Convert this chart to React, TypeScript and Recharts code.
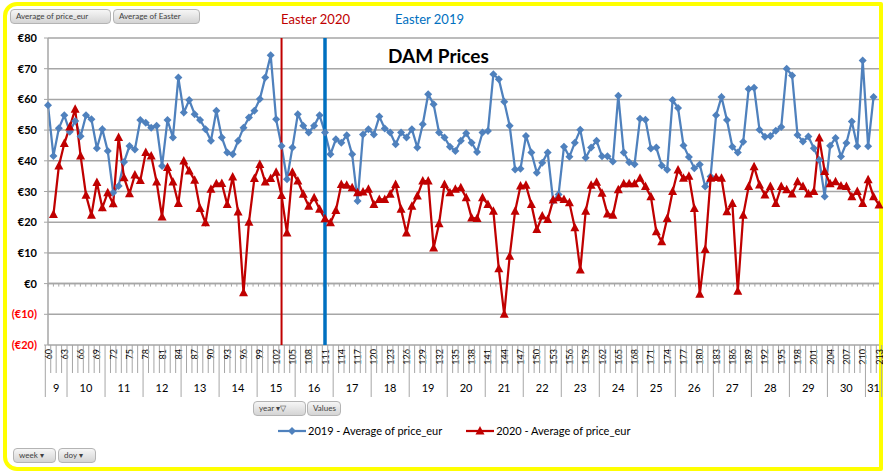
import React from 'react';
import { LineChart, Line, XAxis, YAxis, CartesianGrid, ReferenceLine } from 'recharts';

// day of year, 1 Mar .. 31 Jul (2020 is a leap year, so its days sit one doy later)
const doys: number[] = [];
for (let d = 60; d <= 213; d++) doys.push(d);

// 2019 - Average of price_eur, doy 60..212
const price2019 = [
  58.1, 41.6, 50.6, 54.8, 49.5, 53, 48, 54.8, 53.5, 44.1,
  50.3, 43.2, 29.6, 31.8, 39.6, 44.8, 43.7, 53.3, 52.4, 50.8,
  51.4, 38.3, 53.3, 47.6, 67.1, 55.7, 59.8, 55.2, 53.3, 50.3,
  46.5, 56.3, 47.6, 42.7, 42.1, 46.5, 50.8, 54.1, 56.3, 60.1,
  67.1, 74.4, 53.5, 44.8, 34, 44.3, 55.2, 51.4, 49.2, 51.4,
  54.8, 49.2, 42.1, 47, 45.9, 48.3, 42.1, 26.9, 48.6, 50.3,
  48.6, 54.4, 50.5, 49.2, 45.4, 49.2, 47.6, 50.3, 44.3, 51.9,
  61.7, 58.4, 49.2, 47.6, 44.6, 43.2, 46.5, 49, 45.9, 42.9,
  49.2, 49.7, 68.2, 66.6, 59.2, 51.4, 37.2, 37.4, 48.1, 42.7,
  36.1, 39.4, 42.7, 27, 29, 44.6, 41.3, 45.9, 50.1, 41,
  44.3, 46.5, 41.5, 41.5, 39.8, 61.2, 42.7, 39.5, 38.9, 53.7,
  53.4, 44, 44.3, 38.5, 37.1, 59.8, 57.2, 45, 41.2, 37.6,
  38.8, 31.6, 34.9, 54.8, 60.8, 53.3, 44.6, 42.7, 46.2, 63.4,
  63.8, 50.1, 47.8, 48.1, 49.8, 51, 70, 67.8, 48.4, 46.3,
  47.9, 44.1, 40.3, 28.4, 44.9, 47.4, 41.4, 45.8, 52.8, 44.7,
  72.7, 44.7, 60.8,
];

// 2020 - Average of price_eur, doy 61..213
const price2020 = [
  22.5, 38.3, 45.6, 51, 56.8, 41.6, 28.8, 22.3, 32.9, 24.7,
  29.6, 26, 47.6, 34.5, 29.3, 35.4, 33.6, 42.7, 41.6, 33.1,
  21.7, 37.8, 33.1, 26.1, 39.9, 36.7, 33.7, 24.5, 19.8, 30.7,
  32.5, 32.6, 25.8, 34.7, 23.3, -3, 20, 34.2, 38.8, 33.1,
  34.2, 36.3, 28.7, 16.5, 36.3, 33.4, 29.1, 25.2, 28, 24.2,
  21.1, 19.8, 23.8, 32.3, 32, 31.2, 29.6, 29.8, 30.7, 25.8,
  27.4, 27.4, 29.1, 32.3, 24.2, 16.5, 25.2, 28.5, 33.4, 33.4,
  11.6, 19.5, 32.3, 29.6, 30.7, 31.2, 28, 21.4, 21.2, 28,
  25.8, 23.6, 4.8, -10, 8.9, 23.6, 31.8, 32, 25.8, 17.6,
  22, 20.9, 27.2, 28, 27.4, 26.3, 18.2, 4.4, 23.6, 32,
  33, 29.4, 22.7, 22.3, 30.6, 32.5, 32.5, 32.5, 34.3, 31.6,
  28.3, 16.9, 13.6, 21.2, 30, 37, 34.3, 35, 24.5, -3.5,
  11.1, 34.3, 34.6, 34.3, 23.4, 26.1, -2.5, 22.3, 31.6, 38.1,
  32.1, 28.9, 31.6, 26.1, 31.6, 30.6, 29.2, 33.2, 31.6, 29.2,
  30, 47.4, 36.5, 32.5, 33.2, 31.8, 31.6, 28.3, 30, 26.1,
  33.8, 28.3, 25.6,
];

const yTicks = [-20, -10, 0, 10, 20, 30, 40, 50, 60, 70, 80];
const easter2020 = 103;
const easter2019 = 111;

const BLUE = '#4F81BD';
const RED = '#C00000';
const GRID = '#A6A6A6';
const FONT = "Lato, 'Open Sans', sans-serif";

const CHART_W = 883;
const CHART_H = 472;
const Y_W = 48;
const RIGHT = 4;
const BAND = (CHART_W - Y_W - RIGHT) / doys.length;

const data = doys.map((doy, i) => ({
  doy,
  y2019: i < price2019.length ? price2019[i] : null,
  y2020: i >= 1 ? price2020[i - 1] : null,
}));

const firstDoy = doys[0];
const lastDoy = doys[doys.length - 1];
const weekOf = (d: number) => Math.floor((d + 6) / 7);

function DoyTick(props: any) {
  const { x, y, payload } = props;
  const doy = Number(payload.value);
  const half = payload.offset || BAND / 2;
  const left = x - half;
  const weekStart = doy === firstDoy || weekOf(doy - 1) !== weekOf(doy);
  const els: React.ReactNode[] = [];
  els.push(<line key="t" x1={left} x2={left} y1={y} y2={y + (weekStart ? 52 : 28)} stroke={GRID} />);
  if (doy === lastDoy) {
    els.push(<line key="e" x1={x + half} x2={x + half} y1={y} y2={y + 52} stroke={GRID} />);
  }
  if (doy % 3 === 0) {
    els.push(
      <text key="l" x={x} y={y + 4} transform={`rotate(-90, ${x}, ${y + 4})`} textAnchor="end"
        dominantBaseline="central" fontSize={9} fill="#000">{doy}</text>
    );
  }
  if (weekStart) {
    let n = 0;
    for (let d = doy; d <= lastDoy && weekOf(d) === weekOf(doy); d++) n++;
    els.push(
      <text key="w" x={left + n * half} y={y + 47} textAnchor="middle" fontSize={11} fill="#000">{weekOf(doy)}</text>
    );
  }
  return <g>{els}</g>;
}

function PriceTick({ x, y, payload }: any) {
  const v = Number(payload.value);
  const label = v < 0 ? `(€${-v})` : `€${v}`;
  return (
    <text x={x} y={y} dy={4} textAnchor="end" fontSize={11} fontWeight="bold" fill={v < 0 ? '#FF0000' : '#000'}>
      {label}
    </text>
  );
}

const Diamond = (p: any) => {
  const { cx, cy } = p;
  if (cx == null || cy == null) return <g key={p.key} />;
  const r = 4;
  return <path key={p.key} d={`M${cx},${cy - r}L${cx + r},${cy}L${cx},${cy + r}L${cx - r},${cy}Z`} fill={BLUE} />;
};

const Triangle = (p: any) => {
  const { cx, cy } = p;
  if (cx == null || cy == null) return <g key={p.key} />;
  return <path key={p.key} d={`M${cx},${cy - 5}L${cx + 4.5},${cy + 3.5}L${cx - 4.5},${cy + 3.5}Z`} fill={RED} />;
};

// zero line with a small tick for every category, like the excel axis crossing
const ZeroLine = (p: any) => {
  const { x1, x2, y1 } = p;
  const step = (x2 - x1) / doys.length;
  return (
    <g>
      <line x1={x1} x2={x2} y1={y1} y2={y1} stroke={GRID} strokeWidth={1.5} />
      {doys.map((d, i) => (
        <line key={d} x1={x1 + i * step} x2={x1 + i * step} y1={y1} y2={y1 + 3} stroke={GRID} />
      ))}
    </g>
  );
};

const pill: React.CSSProperties = {
  position: 'absolute',
  height: 15,
  boxSizing: 'border-box',
  border: '1px solid #B4B4B4',
  borderRadius: 4,
  background: 'linear-gradient(#F6F6F6, #D4D4D4)',
  fontSize: 8,
  lineHeight: '13px',
  color: '#404040',
  paddingLeft: 5,
  whiteSpace: 'nowrap',
};

export default function App() {
  return (
    <div style={{ position: 'relative', width: CHART_W, height: CHART_H, background: '#fff', fontFamily: FONT, overflow: 'hidden' }}>
      <style>{'body{margin:0}'}</style>
      <div style={{ position: 'absolute', left: 3, top: 2, width: 880, height: 469, boxSizing: 'border-box', border: '4px solid #FFFF00', borderRadius: '14px 2px 2px 14px' }} />

      <LineChart width={CHART_W} height={CHART_H} data={data} margin={{ top: 38, right: RIGHT, left: 0, bottom: 0 }}>
        <CartesianGrid vertical={false} stroke={GRID} strokeWidth={1.5} />
        <XAxis dataKey="doy" type="category" interval={0} height={127} tickSize={0} tickMargin={0}
          axisLine={false} tickLine={false} tick={<DoyTick />} />
        <YAxis domain={[-20, 80]} ticks={yTicks} interval={0} width={Y_W} tickSize={4} tickMargin={7}
          axisLine={{ stroke: GRID, strokeWidth: 1.5 }} tickLine={{ stroke: GRID }} tick={<PriceTick />} />
        <ReferenceLine y={0} shape={<ZeroLine />} />
        <Line dataKey="y2019" stroke={BLUE} strokeWidth={2.25} dot={Diamond} activeDot={false} isAnimationActive={false} />
        <Line dataKey="y2020" stroke={RED} strokeWidth={2.25} dot={Triangle} activeDot={false} isAnimationActive={false} />
        <ReferenceLine x={easter2020} stroke={RED} strokeWidth={2} />
        <ReferenceLine x={easter2019} stroke="#0070C0" strokeWidth={3.5} />
      </LineChart>

      <div style={{ position: 'absolute', left: 281, top: 11, fontSize: 13, color: RED }}>Easter 2020</div>
      <div style={{ position: 'absolute', left: 395, top: 11, fontSize: 13, color: '#0070C0' }}>Easter 2019</div>
      <div style={{ position: 'absolute', left: 388, top: 44, fontSize: 19, fontWeight: 'bold', color: '#000' }}>DAM Prices</div>

      <div style={{ ...pill, left: 10, top: 9, width: 101 }}>Average of price_eur</div>
      <div style={{ ...pill, left: 113, top: 9, width: 87 }}>Average of Easter</div>
      <div style={{ ...pill, left: 253, top: 401, width: 53 }}>year ▾▽</div>
      <div style={{ ...pill, left: 307, top: 401, width: 34 }}>Values</div>
      <div style={{ ...pill, left: 13, top: 448, width: 43 }}>week ▾</div>
      <div style={{ ...pill, left: 58, top: 448, width: 38 }}>doy ▾</div>

      <div style={{ position: 'absolute', left: 278, top: 424, display: 'flex', alignItems: 'center', fontSize: 11, color: '#000' }}>
        <svg width={28} height={12}>
          <line x1={0} x2={28} y1={6} y2={6} stroke={BLUE} strokeWidth={2.25} />
          <path d="M14,2L18,6L14,10L10,6Z" fill={BLUE} />
        </svg>
        <span style={{ marginLeft: 2 }}>2019 - Average of price_eur</span>
        <svg width={28} height={12} style={{ marginLeft: 24 }}>
          <line x1={0} x2={28} y1={6} y2={6} stroke={RED} strokeWidth={2.25} />
          <path d="M14,1L18.5,9.5L9.5,9.5Z" fill={RED} />
        </svg>
        <span style={{ marginLeft: 2 }}>2020 - Average of price_eur</span>
      </div>
    </div>
  );
}
